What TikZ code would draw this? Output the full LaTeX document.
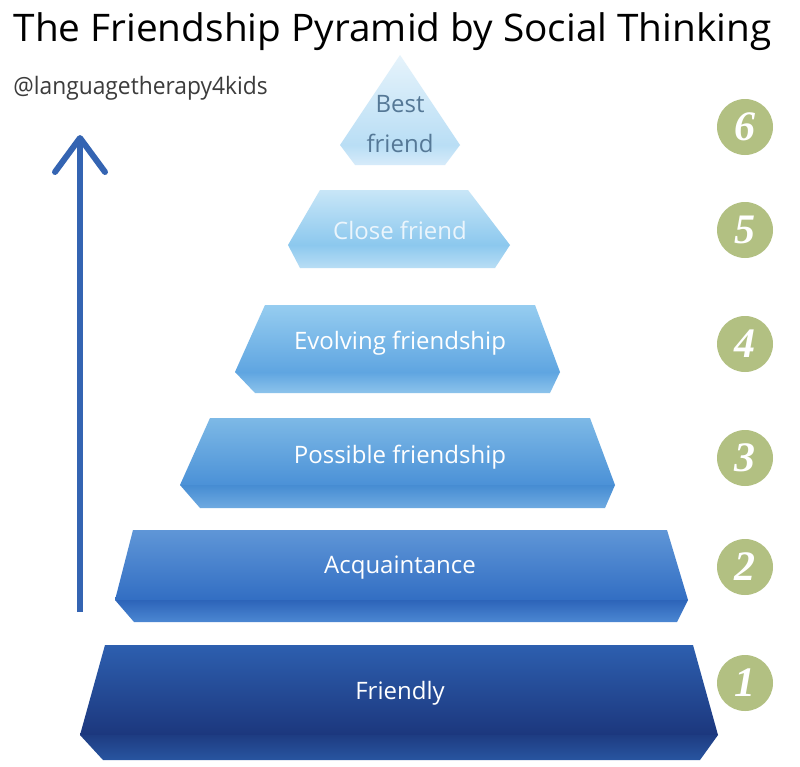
\documentclass[tikz,border=0pt]{standalone}
\usepackage{fontspec}
\setmainfont{Open Sans}
\newfontfamily\numfont{Liberation Serif}
\begin{document}
\begin{tikzpicture}[x=1pt,y=-1pt]
\useasboundingbox[fill=white] (0,0) rectangle (800,766);
\definecolor{olv}{RGB}{178,192,130}
\definecolor{arr}{RGB}{52,100,178}
\tikzset{numc/.style={circle,fill=olv,minimum size=56pt,inner sep=0pt,text=white,font=\numfont\bfseries\itshape\fontsize{42}{42}\selectfont},
lbl/.style={text=white,font=\fontsize{24}{26}\selectfont}}
% Tier 1
\shade[top color={rgb,255:red,45;green,95;blue,175},bottom color={rgb,255:red,28;green,55;blue,125}] (105,645) -- (693,645) -- (718,735) -- (80,735) -- cycle;
\shade[top color={rgb,255:red,30;green,60;blue,130},bottom color={rgb,255:red,40;green,85;blue,160}] (80,735) -- (718,735) -- (700,760) -- (103,760) -- cycle;
% Tier 2
\shade[top color={rgb,255:red,95;green,150;blue,215},bottom color={rgb,255:red,50;green,110;blue,195}] (133,530) -- (667,530) -- (688,600) -- (115,600) -- cycle;
\shade[top color={rgb,255:red,45;green,100;blue,185},bottom color={rgb,255:red,75;green,135;blue,210}] (115,600) -- (688,600) -- (677,622) -- (134,622) -- cycle;
% Tier 3
\shade[top color={rgb,255:red,125;green,185;blue,230},bottom color={rgb,255:red,75;green,145;blue,215}] (210,418) -- (590,418) -- (615,485) -- (180,485) -- cycle;
\shade[top color={rgb,255:red,70;green,140;blue,210},bottom color={rgb,255:red,110;green,170;blue,225}] (180,485) -- (615,485) -- (605,508) -- (200,508) -- cycle;
% Tier 4
\shade[top color={rgb,255:red,150;green,205;blue,240},bottom color={rgb,255:red,95;green,165;blue,225}] (265,305) -- (535,305) -- (560,372) -- (235,372) -- cycle;
\shade[top color={rgb,255:red,95;green,165;blue,225},bottom color={rgb,255:red,140;green,195;blue,235}] (235,372) -- (560,372) -- (550,393) -- (255,393) -- cycle;
% Tier 5
\shade[top color={rgb,255:red,200;green,230;blue,247},bottom color={rgb,255:red,140;green,200;blue,238}] (320,190) -- (468,190) -- (510,245) -- (288,245) -- cycle;
\shade[top color={rgb,255:red,140;green,200;blue,238},bottom color={rgb,255:red,185;green,222;blue,245}] (288,245) -- (510,245) -- (495,268) -- (300,268) -- cycle;
% Tier 6
\shade[top color={rgb,255:red,230;green,243;blue,251},bottom color={rgb,255:red,185;green,222;blue,245}] (400,55) -- (460,145) -- (340,145) -- cycle;
\shade[top color={rgb,255:red,185;green,222;blue,245},bottom color={rgb,255:red,215;green,235;blue,250}] (340,145) -- (460,145) -- (445,165) -- (355,165) -- cycle;
% labels
\node[lbl] (t1) at (400,693) {Friendly};
\node[lbl] (t2) at (400,568) {Acquaintance};
\node[lbl] (t3) at (400,457) {Possible friendship};
\node[lbl] (t4) at (400,343) {Evolving friendship};
\node[lbl,text={rgb,255:red,235;green,245;blue,252}] (t5) at (400,230) {Close friend};
\node[lbl,text={rgb,255:red,85;green,120;blue,150},align=center,font=\fontsize{24}{40}\selectfont] (t6) at (400,124) {Best\\friend};
% numbers
\node[numc] (n6) at (745,127) {6};
\node[numc] (n5) at (745,230) {5};
\node[numc] (n4) at (745,344) {4};
\node[numc] (n3) at (745,458) {3};
\node[numc] (n2) at (745,567) {2};
\node[numc] (n1) at (745,683) {1};
% title
\node[anchor=west,font=\fontsize{38}{40}\selectfont,xscale=1.02] (title) at (10,32) {The Friendship Pyramid by Social Thinking};
\node[anchor=west,font=\fontsize{24}{26}\selectfont,text={rgb,255:red,60;green,60;blue,60},xscale=0.95] (handle) at (10,88) {@languagetherapy4kids};
% arrow
\coordinate (a0) at (80,612);
\coordinate (a1) at (80,138);
\draw[arr,line width=6pt] (a0) -- (a1);
\draw[arr,line width=6pt,line cap=round,line join=round] (55,172) -- (a1) -- (105,172);
\end{tikzpicture}
\end{document}
